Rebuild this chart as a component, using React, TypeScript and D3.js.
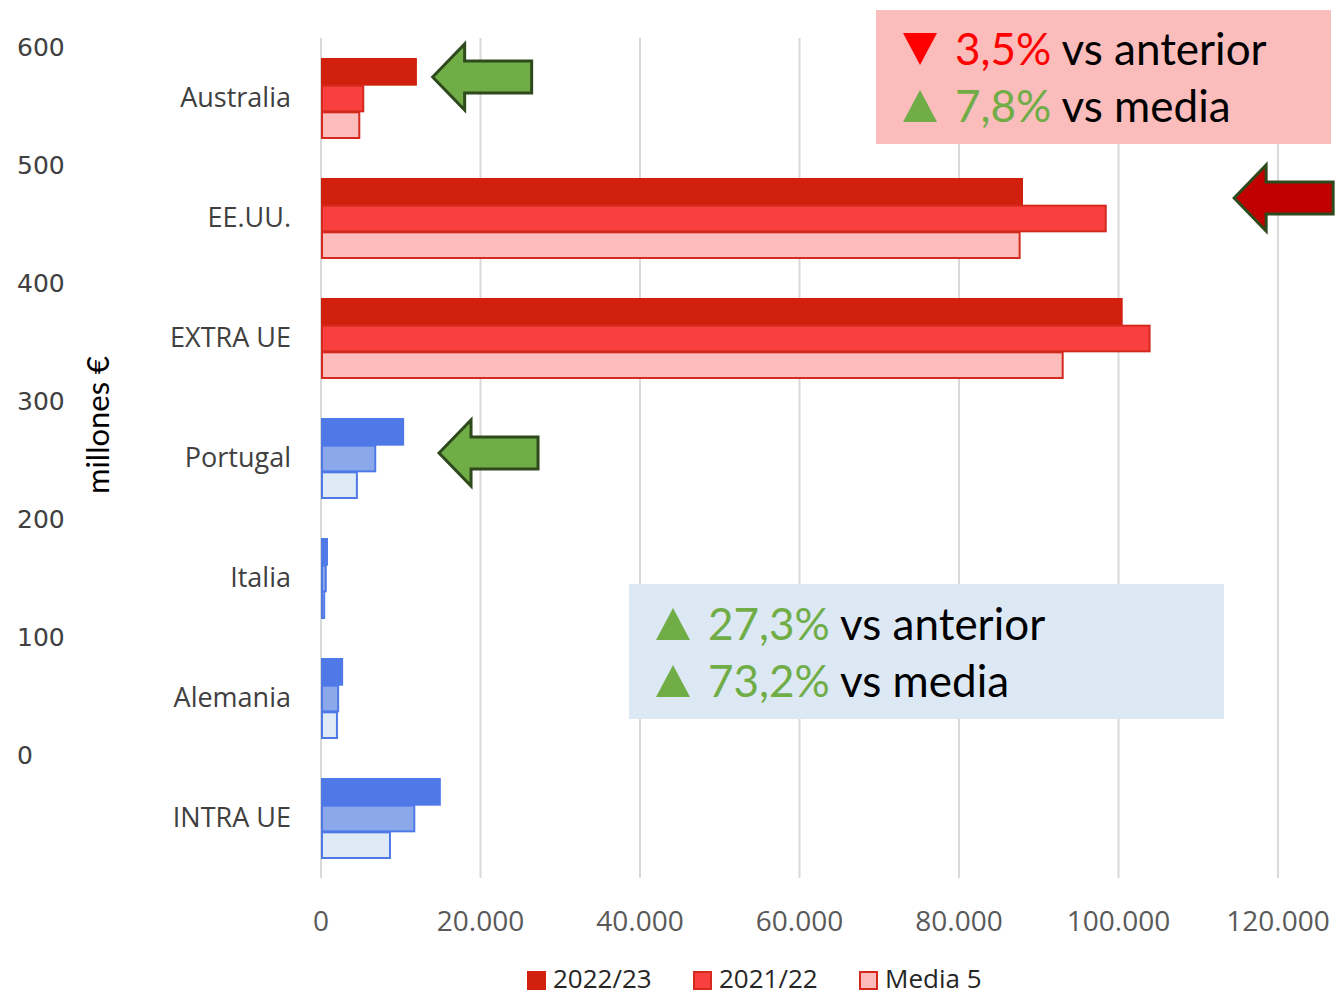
import React from 'react';
import * as d3 from 'd3';

// categories top to bottom
const categories = ['Australia', 'EE.UU.', 'EXTRA UE', 'Portugal', 'Italia', 'Alemania', 'INTRA UE'];
const seriesNames = ['2022/23', '2021/22', 'Media 5'];
const v2223 = [11900, 87900, 100400, 10300, 750, 2650, 14900];
const v2122 = [5300, 98400, 103900, 6800, 600, 2150, 11700];
const vMedia = [4800, 87600, 93000, 4500, 400, 2000, 8650];
const isRed = [true, true, true, false, false, false, false];

const xTicks = [0, 20000, 40000, 60000, 80000, 100000, 120000];
const leftTicks = [0, 100, 200, 300, 400, 500, 600];

const redFills = ['#d2200f', '#f84040', '#fcbcbc'];
const redStrokes = ['#d2200f', '#d42a1e', '#d42a1e'];
const blueFills = ['#5079e8', '#8aa8ea', '#deeaf6'];
const blueStrokes = ['#5079e8', '#5079e8', '#5079e8'];

const fmt = (v: number) => d3.format(',')(v).replace(/,/g, '.');

const W = 1339;
const H = 997;

const arrowPath = (tx: number, ty: number) => {
  const head = 32, hh = 33, sh = 16, len = 99;
  return `M${tx},${ty} L${tx + head},${ty - hh} L${tx + head},${ty - sh} L${tx + len},${ty - sh} L${tx + len},${ty + sh} L${tx + head},${ty + sh} L${tx + head},${ty + hh} Z`;
};

// triangle marker, (x, baseline)
const tri = (x0: number, base: number, up: boolean) => {
  const w = 34, h = 32;
  return up
    ? `M${x0},${base} L${x0 + w},${base} L${x0 + w / 2},${base - h} Z`
    : `M${x0},${base - h} L${x0 + w},${base - h} L${x0 + w / 2},${base} Z`;
};

const App: React.FC = () => {
  const x = d3.scaleLinear().domain([0, 120000]).range([321, 1278]);
  const y = d3.scaleBand<string>().domain(categories).range([38, 878]).paddingInner(1 / 3).paddingOuter(1 / 6);
  const inner = d3.scaleBand<string>().domain(seriesNames).range([0, y.bandwidth()]);
  const yLeft = d3.scaleLinear().domain([0, 600]).range([755, 47]);

  const seriesValues = [v2223, v2122, vMedia];

  const catFont = "'Open Sans', sans-serif";
  const noteFont = "Lato, 'Open Sans', sans-serif";

  return (
    <svg width={W} height={H} style={{ position: 'absolute', left: 0, top: 0, background: '#fff' }}>
      {/* gridlines */}
      {xTicks.map(t => (
        <line key={t} x1={x(t)} x2={x(t)} y1={38} y2={878} stroke="#d9d9d9" strokeWidth={2} />
      ))}

      {/* bars */}
      {categories.map((c, i) => (
        <g key={c} transform={`translate(0,${y(c)})`}>
          {seriesNames.map((s, j) => {
            const fills = isRed[i] ? redFills : blueFills;
            const strokes = isRed[i] ? redStrokes : blueStrokes;
            const v = seriesValues[j][i];
            return (
              <rect
                key={s}
                x={x(0) + 1}
                y={inner(s)! + 1}
                width={Math.max(x(v) - x(0) - 1, 1)}
                height={inner.bandwidth() - 1}
                fill={fills[j]}
                stroke={strokes[j]}
                strokeWidth={2}
              />
            );
          })}
        </g>
      ))}

      {/* category labels */}
      {categories.map(c => (
        <text key={c} x={291} y={y(c)! + y.bandwidth() / 2 - 2} textAnchor="end" dominantBaseline="central"
          fontFamily={catFont} fontSize={27} fill="#404040">{c}</text>
      ))}

      {/* x tick labels */}
      {xTicks.map(t => (
        <text key={t} x={x(t)} y={920} textAnchor="middle" dominantBaseline="central"
          fontFamily={catFont} fontSize={28} fill="#595959">{fmt(t)}</text>
      ))}

      {/* left axis labels */}
      {leftTicks.map(t => (
        <text key={t} x={17} y={yLeft(t)} dominantBaseline="central"
          fontFamily="'DejaVu Sans', sans-serif" fontSize={25} fill="#404040">{t}</text>
      ))}
      <text transform="translate(97,425) rotate(-90)" textAnchor="middle" dominantBaseline="central"
        fontFamily={noteFont} fontSize={31} fill="#000">millones €</text>

      {/* arrows */}
      <path d={arrowPath(x(14000), y('Australia')! + 19)} fill="#70ad47" stroke="#2e4a1c" strokeWidth={3} strokeLinejoin="miter" />
      <path d={arrowPath(x(14800), y('Portugal')! + 35)} fill="#70ad47" stroke="#2e4a1c" strokeWidth={3} strokeLinejoin="miter" />
      <path d={arrowPath(x(114500), y('EE.UU.')! + 20)} fill="#c00000" stroke="#2e4a1c" strokeWidth={3} strokeLinejoin="miter" />

      {/* red note */}
      <rect x={876} y={10} width={455} height={134} fill="#fbbcbc" />
      <path d={tri(903, 65, false)} fill="#ff0000" />
      <text x={955} y={65} fontFamily={noteFont} fontSize={44} fill="#000">
        <tspan fill="#ff0000">3,5%</tspan> vs anterior
      </text>
      <path d={tri(903, 122, true)} fill="#70ad47" />
      <text x={955} y={122} fontFamily={noteFont} fontSize={44} fill="#000">
        <tspan fill="#70ad47">7,8%</tspan> vs media
      </text>

      {/* blue note */}
      <rect x={629} y={584} width={595} height={135} fill="#dde8f5" />
      <path d={tri(656, 640, true)} fill="#70ad47" />
      <text x={708} y={640} fontFamily={noteFont} fontSize={44} fill="#000">
        <tspan fill="#70ad47">27,3%</tspan> vs anterior
      </text>
      <path d={tri(656, 697, true)} fill="#70ad47" />
      <text x={708} y={697} fontFamily={noteFont} fontSize={44} fill="#000">
        <tspan fill="#70ad47">73,2%</tspan> vs media
      </text>

      {/* legend */}
      {seriesNames.map((s, j) => {
        const lx = [527, 693, 859][j];
        return (
          <g key={s}>
            <rect x={lx + 1} y={972} width={17} height={17} fill={redFills[j]} stroke={redStrokes[j]} strokeWidth={2} />
            <text x={lx + 26} y={988} fontFamily={catFont} fontSize={26} fill="#262626">{s}</text>
          </g>
        );
      })}
    </svg>
  );
};

export default App;
